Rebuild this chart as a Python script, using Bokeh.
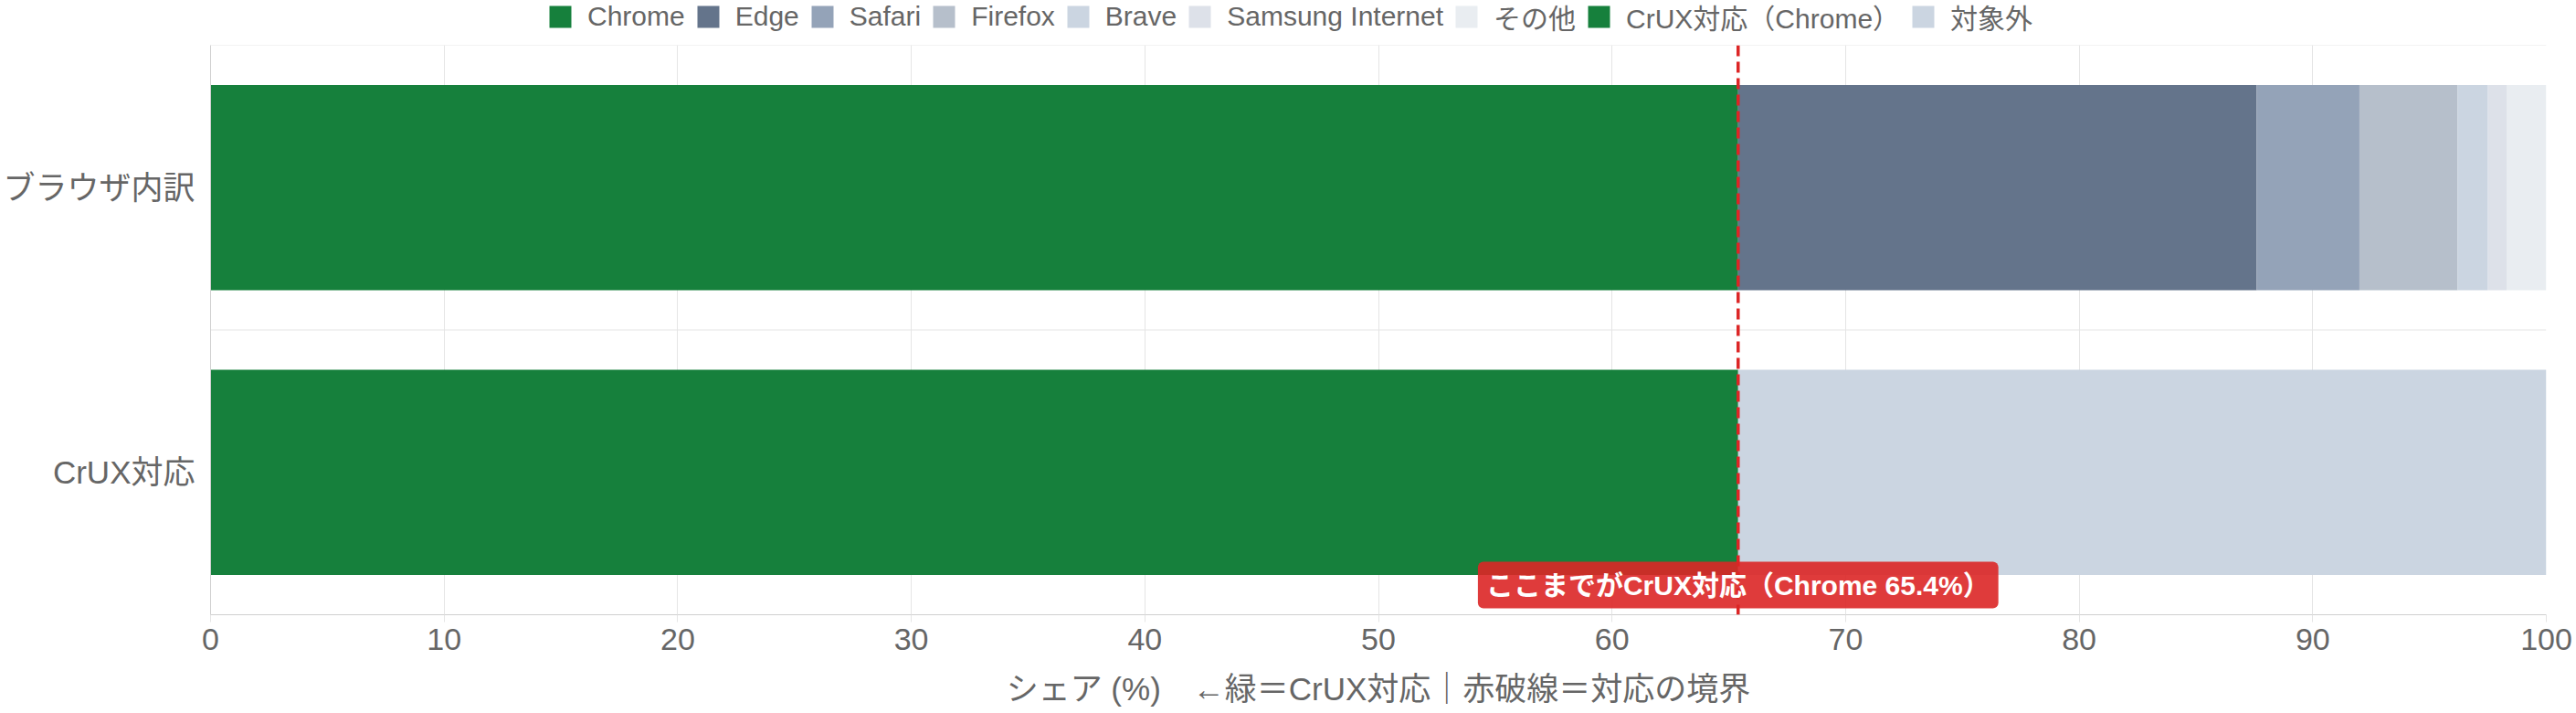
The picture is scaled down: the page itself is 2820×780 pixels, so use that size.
from bokeh.plotting import figure
from bokeh.layouts import column
from bokeh.models import (ColumnDataSource, FactorRange, Range1d, FixedTicker, Span, Label)
from bokeh.embed import file_html
from bokeh.resources import INLINE

# ---- data ----
categories = ["ブラウザ内訳", "CrUX対応"]
browser_names = ["Chrome", "Edge", "Safari", "Firefox", "Brave", "Samsung Internet", "その他"]
browser_shares = [65.4, 22.2, 4.4, 4.2, 1.3, 0.8, 1.7]
crux_names = ["CrUX対応（Chrome）", "対象外"]
crux_shares = [65.4, 34.6]
x_ticks = [0, 10, 20, 30, 40, 50, 60, 70, 80, 90, 100]
x_title = "シェア (%)　←緑＝CrUX対応｜赤破線＝対応の境界"
boundary_value = 65.4
boundary_text = f"ここまでがCrUX対応（Chrome {boundary_value}%）"

# ---- styles ----
browser_colors = ["#16803c", "#64748b", "#94a3b8", "#b6bfcb", "#cbd5e1", "#dde1e9", "#e9edf1"]
crux_colors = ["#16803c", "#cbd5e1"]
FONT = "Liberation Sans, Noto Sans CJK JP"
TEXT = "#666666"
GRID = "#e5e5e5"
AXIS = "#d0d0d0"

data = {"cat": categories}
keys, colors, labels = [], [], []
for i, (n, v) in enumerate(zip(browser_names, browser_shares)):
    k = f"b{i}"
    data[k] = [v, 0]
    keys.append(k); colors.append(browser_colors[i]); labels.append(n)
for i, (n, v) in enumerate(zip(crux_names, crux_shares)):
    k = f"c{i}"
    data[k] = [0, v]
    keys.append(k); colors.append(crux_colors[i]); labels.append(n)
source = ColumnDataSource(data)

# ---------------- legend strip ----------------
pl = figure(width=2820, height=49, x_range=Range1d(0, 100),
            y_range=FactorRange(factors=categories[::-1]),
            min_border=0, x_axis_location=None, y_axis_location=None,
            output_backend="svg", toolbar_location=None, title=None)
pl.outline_line_color = None
pl.xgrid.visible = False
pl.ygrid.visible = False
# same series as the chart, hidden: only their legend entries are shown here
pl.hbar_stack(keys, y="cat", height=0.72, color=colors, source=source, line_color=None,
              legend_label=labels, visible=False)
lg = pl.legend[0]
lg.orientation = "horizontal"
lg.location = (368, 9)
lg.click_policy = "none"
lg.inactive_fill_alpha = 0
lg.glyph_width = 30
lg.glyph_height = 30
lg.label_height = 30
lg.label_standoff = 15
lg.spacing = 10
lg.padding = 0
lg.margin = 0
lg.border_line_color = None
lg.background_fill_alpha = 0
lg.label_text_font = FONT
lg.label_text_font_size = "30px"
lg.label_text_color = TEXT

# ---------------- main chart ----------------
p = figure(y_range=FactorRange(factors=categories[::-1]), x_range=Range1d(0, 100),
           frame_width=2557, frame_height=623,
           min_border_left=230, min_border_right=33, min_border_top=0, min_border_bottom=104,
           output_backend="svg", toolbar_location=None, title=None)
p.outline_line_color = None
p.background_fill_color = "white"
p.border_fill_color = "white"

# category boundary lines (between / above the category bands)
for b in range(1, len(categories) + 1):
    p.add_layout(Span(location=b, dimension="width", line_color=GRID, line_width=1,
                      level="underlay"))

p.hbar_stack(keys, y="cat", height=0.72, color=colors, source=source, line_color=None)

# x axis
xa = p.xaxis[0]
xa.ticker = FixedTicker(ticks=x_ticks)
xa.major_tick_out = 8
xa.major_tick_in = 0
xa.minor_tick_line_color = None
xa.major_tick_line_color = GRID
xa.axis_line_color = AXIS
xa.major_label_text_font = FONT
xa.major_label_text_font_size = "34px"
xa.major_label_text_color = TEXT
xa.major_label_standoff = 7
xa.axis_label = x_title
xa.axis_label_text_font = FONT
xa.axis_label_text_font_size = "35px"
xa.axis_label_text_font_style = "normal"
xa.axis_label_text_color = TEXT
xa.axis_label_standoff = 20
p.xgrid.grid_line_color = GRID

# y axis (category labels)
ya = p.yaxis[0]
ya.major_tick_line_color = None
ya.major_tick_out = 0
ya.major_tick_in = 0
ya.axis_line_color = AXIS
ya.major_label_text_font = FONT
ya.major_label_text_font_size = "35px"
ya.major_label_text_color = TEXT
ya.major_label_standoff = 17
p.ygrid.grid_line_color = None

# boundary line + label
p.add_layout(Span(location=boundary_value, dimension="height", line_color="#dc2626",
                  line_width=3.5, line_dash="12 6", level="overlay"))
p.add_layout(Label(x=boundary_value, y=7, y_units="screen", text=boundary_text,
                   text_align="center", text_baseline="bottom", text_color="white",
                   text_font=FONT, text_font_size="30px", text_font_style="bold",
                   background_fill_color="#dc2626", background_fill_alpha=0.9,
                   padding=9, border_radius=6, level="overlay"))

layout = column(pl, p, spacing=0)

with open("out.html", "w", encoding="utf-8") as f:
    f.write(file_html(layout, INLINE))
